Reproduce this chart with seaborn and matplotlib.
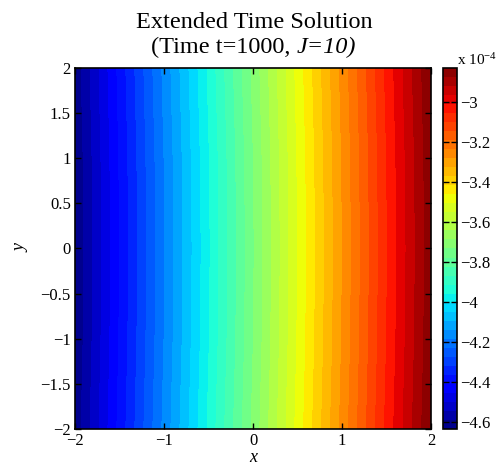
import numpy as np
import matplotlib
matplotlib.use("Agg")
import matplotlib.pyplot as plt
import seaborn as sns

# ---- data (values in units of 1e-4) ----
x_vals = [-2.0, -1.5, -1.0, -0.5, 0.0, 0.5, 1.0, 1.5, 2.0]
y_vals = [-2.0, -1.0, 0.0, 1.0, 2.0]
row_y_m2 = [-4.620, -4.395, -4.172, -3.950, -3.722, -3.492, -3.268, -3.045, -2.830]
row_y_m1 = [-4.630, -4.405, -4.183, -3.962, -3.734, -3.503, -3.279, -3.056, -2.840]
row_y_0  = [-4.634, -4.409, -4.187, -3.966, -3.738, -3.507, -3.283, -3.060, -2.844]
row_y_p1 = [-4.630, -4.405, -4.183, -3.962, -3.734, -3.503, -3.279, -3.056, -2.840]
row_y_p2 = [-4.620, -4.395, -4.172, -3.950, -3.722, -3.492, -3.268, -3.045, -2.830]
x_ticks = [-2, -1, 0, 1, 2]
y_ticks = [-2, -1.5, -1, -0.5, 0, 0.5, 1, 1.5, 2]
cb_ticks = [-3.0, -3.2, -3.4, -3.6, -3.8, -4.0, -4.2, -4.4, -4.6]
title_line1 = "Extended Time Solution"
title_line2_a = "(Time t=1000, "
title_line2_b = "J=10)"

sns.set_style("ticks")
plt.rcParams['font.family'] = ['Liberation Serif', 'DejaVu Serif']
plt.rcParams['mathtext.fontset'] = 'custom'
plt.rcParams['mathtext.rm'] = 'Liberation Serif'
plt.rcParams['mathtext.it'] = 'Liberation Serif:italic'
plt.rcParams['axes.linewidth'] = 1.2
plt.rcParams['axes.edgecolor'] = 'black'
plt.rcParams['text.color'] = 'black'
plt.rcParams['axes.labelcolor'] = 'black'

Z = np.array([row_y_m2, row_y_m1, row_y_0, row_y_p1, row_y_p2])
X, Y = np.meshgrid(x_vals, y_vals)

fig = plt.figure(figsize=(4.98, 4.67), dpi=100)
ax = fig.add_axes([0.1506, 0.0814, 0.7149, 0.7730])
cax = fig.add_axes([0.8896, 0.0814, 0.0281, 0.7730])

cmap = matplotlib.colormaps['jet']
levels = np.linspace(Z.min(), Z.max(), 41)
cf = ax.contourf(X, Y, Z, levels=levels, cmap=cmap)

ax.set_axisbelow(False)
ax.set_xlim(-2, 2)
ax.set_ylim(-2, 2)
ax.set_xticks(x_ticks)
ax.set_yticks(y_ticks)
ax.set_xticklabels([f"{v:g}".replace("-", "\u2212") for v in x_ticks])
ax.set_yticklabels([f"{v:g}".replace("-", "\u2212") for v in y_ticks])
ax.tick_params(direction='in', top=True, right=True, length=4, width=1.0,
               labelsize=12, pad=3, color='black', labelcolor='black')
ax.set_xlabel("x", fontstyle='italic', fontsize=13, labelpad=0)
ax.set_ylabel("y", fontstyle='italic', fontsize=13, labelpad=8)

# title (two lines, second with italic part)
tsize = 17.5
xc = 0.510
fig.text(xc, 0.940, title_line1, fontsize=tsize, ha='center', va='baseline')
ta = fig.text(xc, 0.8865, title_line2_a, fontsize=tsize, ha='left', va='baseline')
tb = fig.text(xc, 0.8865, title_line2_b, fontsize=tsize, ha='left', va='baseline',
              fontstyle='italic')
r = fig.canvas.get_renderer()
wa = ta.get_window_extent(r).width / fig.bbox.width
wb = tb.get_window_extent(r).width / fig.bbox.width
x0 = xc - (wa + wb) / 2
ta.set_x(x0)
tb.set_x(x0 + wa)

cb = fig.colorbar(cf, cax=cax)
cb.set_ticks(cb_ticks)
cb.set_ticklabels([f"{v:g}".replace("-", "\u2212") for v in cb_ticks])
cax.set_axisbelow(False)
cb.ax.tick_params(direction='in', length=4, width=1.0, labelsize=12, left=True,
                  right=True, color='black', labelcolor='black', pad=2)
cb.outline.set_linewidth(1.2)
cax.text(1.0, 1.0, "x 10$^{-4}$", transform=cax.transAxes, fontsize=11,
         ha='left', va='bottom')

fig.savefig("out.png", dpi=100)
